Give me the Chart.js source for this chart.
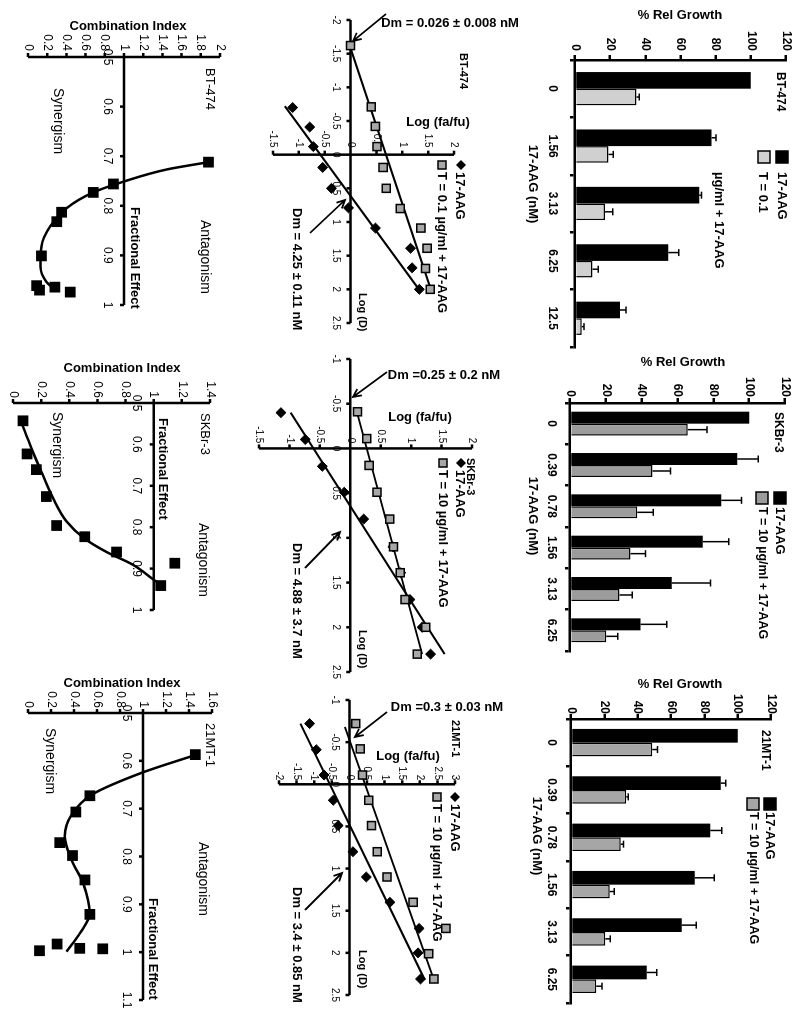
<!DOCTYPE html>
<html>
<head>
<meta charset="utf-8">
<script src="https://cdn.jsdelivr.net/npm/chart.js@4.4.1/dist/chart.umd.min.js"></script>
<style>
  html, body { margin: 0; padding: 0; background: #fff; overflow: hidden; }
  body { width: 800px; height: 1023px; position: relative; }
  /* the figure is laid out upright (1023 x 800) and turned a quarter clockwise */
  #figure { position: absolute; left: 0; top: 0; width: 1023px; height: 800px;
            transform-origin: 0 0; transform: translate(800px, 0) rotate(90deg); }
  #figure canvas { position: absolute; left: 0; top: 0; }
</style>
</head>
<body>
<div id="figure"></div>
<script>
// ---- % relative growth (bar charts) ----
const growthTicks = [0, 20, 40, 60, 80, 100, 120];

const btDoses = ['0', '1.56', '3.13', '6.25', '12.5'];
const btAag = [100, 77.7, 70.7, 53, 25.6];
const btAagErr = [0, 2.5, 1.3, 6, 3.4];
const btCombo = [35, 19, 17, 10, 3.8];
const btComboErr = [1.5, 2.8, 4.4, 3.2, 1.3];

const skDoses = ['0', '0.39', '0.78', '1.56', '3.13', '6.25'];
const skAag = [100, 93.4, 84.4, 74.1, 56.8, 39.4];
const skAagErr = [0, 11.7, 11.3, 14.5, 21.6, 14.6];
const skCombo = [65.7, 46.1, 37.5, 33.8, 27.6, 20.3];
const skComboErr = [10.7, 10, 9, 8.4, 7.1, 6.4];

const mtDoses = ['0', '0.39', '0.78', '1.56', '3.13', '6.25'];
const mtAag = [100, 89.8, 83.6, 74.3, 66.5, 45.5];
const mtAagErr = [0, 3, 6.8, 11.6, 8.6, 6];
const mtCombo = [48.7, 33.1, 29.9, 23.2, 20.6, 15.2];
const mtComboErr = [3.2, 1.2, 1.6, 2.8, 3, 3.4];

// ---- median-effect plots: log (D) vs log (fa/fu) ----
const btLogDTicks = [-2, -1.5, -1, -0.5, 0, 0.5, 1, 1.5, 2, 2.5];
const btLogFTicks = [-1.5, -1, -0.5, 0, 0.5, 1, 1.5, 2];
const btAagLogD = [-0.70, -0.41, -0.12, 0.19, 0.50, 0.79, 1.09, 1.39, 1.68, 2.0];
const btAagLogF = [-1.12, -0.79, -0.72, -0.54, -0.37, -0.04, 0.48, 1.16, 1.19, 1.33];
const btComboLogD = [-1.62, -0.71, -0.42, -0.12, 0.19, 0.50, 0.80, 1.09, 1.39, 1.69, 2.0];
const btComboLogF = [0.0, 0.40, 0.48, 0.51, 0.63, 0.69, 0.96, 1.36, 1.48, 1.45, 1.54];
const btAagFitD = [-0.72, 2.02];
const btAagFitF = [-1.27, 1.34];
const btComboFitD = [-1.65, 2.02];
const btComboFitF = [-0.03, 1.56];

const skLogDTicks = [-1, -0.5, 0, 0.5, 1, 1.5, 2, 2.5];
const skLogFTicks = [-1.5, -1, -0.5, 0, 0.5, 1, 1.5, 2];
const skAagLogD = [-0.40, -0.10, 0.20, 0.49, 0.79, 1.10, 1.39, 1.69, 2.0, 2.30];
const skAagLogF = [-1.14, -0.74, -0.46, -0.10, 0.22, 0.70, 0.83, 0.98, 1.18, 1.32];
const skComboLogD = [-0.41, -0.11, 0.19, 0.49, 0.79, 1.10, 1.39, 1.69, 2.0, 2.30];
const skComboLogF = [0.12, 0.27, 0.31, 0.44, 0.65, 0.71, 0.82, 0.90, 1.24, 1.10];
const skAagFitD = [-0.40, 2.30];
const skAagFitF = [-0.98, 1.55];
const skComboFitD = [-0.43, 2.30];
const skComboFitF = [0.10, 1.18];

const mtLogDTicks = [-1, -0.5, 0, 0.5, 1, 1.5, 2, 2.5];
const mtLogFTicks = [-2, -1.5, -1, -0.5, 0, 0.5, 1, 1.5, 2, 2.5, 3];
const mtAagLogD = [-0.72, -0.41, -0.11, 0.19, 0.49, 0.80, 1.10, 1.40, 1.71, 2.0, 2.31];
const mtAagLogF = [-1.13, -0.94, -0.72, -0.46, -0.32, 0.10, 0.48, 1.15, 1.98, 1.95, 2.02];
const mtComboLogD = [-0.72, -0.42, -0.11, 0.19, 0.49, 0.80, 1.10, 1.40, 1.71, 2.01, 2.31];
const mtComboLogF = [0.18, 0.31, 0.37, 0.55, 0.63, 0.79, 1.07, 1.81, 2.74, 2.25, 2.40];
const mtAagFitD = [-0.72, 2.32];
const mtAagFitF = [-1.39, 2.14];
const mtComboFitD = [-0.68, 2.32];
const mtComboFitF = [-0.13, 2.40];

// ---- combination index vs fractional effect ----
const feTicks = [0.5, 0.6, 0.7, 0.8, 0.9, 1];
const mtFeTicks = [0.5, 0.6, 0.7, 0.8, 0.9, 1, 1.1];
const btCiTicks = [0, 0.2, 0.4, 0.6, 0.8, 1, 1.2, 1.4, 1.6, 1.8, 2];
const skCiTicks = [0, 0.2, 0.4, 0.6, 0.8, 1, 1.2, 1.4];
const mtCiTicks = [0, 0.2, 0.4, 0.6, 0.8, 1, 1.2, 1.4, 1.6];

const btFa = [0.712, 0.756, 0.773, 0.813, 0.832, 0.901, 0.964, 0.961, 0.970, 0.974];
const btCi = [1.88, 0.89, 0.68, 0.35, 0.30, 0.14, 0.28, 0.09, 0.12, 0.44];
const btCurveFa = [0.712, 0.727, 0.751, 0.773, 0.805, 0.842, 0.882, 0.923, 0.953, 0.966];
const btCurveCi = [1.88, 1.44, 1.0, 0.68, 0.40, 0.23, 0.14, 0.13, 0.19, 0.26];

const skFa = [0.543, 0.623, 0.661, 0.726, 0.796, 0.823, 0.86, 0.887, 0.941];
const skCi = [0.071, 0.10, 0.166, 0.237, 0.31, 0.51, 0.736, 1.15, 1.05];
const skCurveFa = [0.546, 0.609, 0.665, 0.730, 0.786, 0.828, 0.859, 0.891, 0.923, 0.941];
const skCurveCi = [0.059, 0.13, 0.20, 0.285, 0.38, 0.51, 0.66, 0.854, 0.985, 1.056];

const mtFa = [0.587, 0.673, 0.707, 0.771, 0.798, 0.849, 0.921, 0.983, 0.997, 0.992, 0.993];
const mtCi = [1.455, 0.538, 0.416, 0.276, 0.387, 0.495, 0.538, 0.253, 0.10, 0.45, 0.65];
const mtCurveFa = [0.589, 0.624, 0.671, 0.713, 0.758, 0.807, 0.856, 0.919, 0.961, 0.999];
const mtCurveCi = [1.44, 1.0, 0.553, 0.378, 0.32, 0.378, 0.48, 0.538, 0.45, 0.335];

// ---- setup ----
const W = 1023, H = 800;
const AXIS_W = 2.5;
const FONT = '"Liberation Sans", Arial, Helvetica, sans-serif';
const bold = px => `bold ${px}px ${FONT}`;
const plain = px => `${px}px ${FONT}`;

Chart.defaults.font.family = FONT;
Chart.defaults.color = '#000';

const figure = document.getElementById('figure');

function addCanvas() {
    const canvas = document.createElement('canvas');
    canvas.width = W;
    canvas.height = H;
    figure.appendChild(canvas);
    return canvas;
}

function toPoints(xs, ys) {
    return xs.map((x, i) => ({ x, y: ys[i] }));
}

function fmt(v) {
    return String(Math.round(v * 100) / 100);
}

// Error bars (upper side only) on top of each bar
const errorBars = {
    id: 'errorBars',
    afterDatasetsDraw(chart) {
        const { ctx } = chart;
        const yScale = chart.scales.y;
        chart.data.datasets.forEach((ds, i) => {
            if (!ds.errors) return;
            chart.getDatasetMeta(i).data.forEach((bar, j) => {
                const err = ds.errors[j];
                if (!err) return;
                const top = yScale.getPixelForValue(ds.data[j] + err);
                ctx.save();
                ctx.strokeStyle = '#000';
                ctx.lineWidth = 1.5;
                ctx.beginPath();
                ctx.moveTo(bar.x, bar.y);
                ctx.lineTo(bar.x, top);
                ctx.moveTo(bar.x - 3.5, top);
                ctx.lineTo(bar.x + 3.5, top);
                ctx.stroke();
                ctx.restore();
            });
        });
    }
};

// Axes that cross inside the plot (median-effect and CI panels)
function crossAxes(o) {
    return {
        id: 'crossAxes',
        beforeDatasetsDraw(chart) {
            const { ctx, chartArea: ca } = chart;
            const xs = chart.scales.x, ys = chart.scales.y;
            const hy = ys.getPixelForValue(o.xAxisAt);
            const vx = xs.getPixelForValue(o.yAxisAt);
            ctx.save();
            ctx.strokeStyle = '#000';
            ctx.fillStyle = '#000';
            ctx.lineWidth = AXIS_W;
            ctx.beginPath();
            ctx.moveTo(ca.left, hy);
            ctx.lineTo(ca.right, hy);
            ctx.moveTo(vx, ca.top);
            ctx.lineTo(vx, ca.bottom);
            o.xTicks.forEach(v => {
                const p = xs.getPixelForValue(v);
                ctx.moveTo(p, hy);
                ctx.lineTo(p, hy + 4);
            });
            o.yTicks.forEach(v => {
                const p = ys.getPixelForValue(v);
                ctx.moveTo(vx - 4, p);
                ctx.lineTo(vx, p);
            });
            ctx.stroke();
            ctx.font = o.font;
            ctx.textBaseline = 'middle';
            ctx.textAlign = 'center';
            o.xTicks.forEach(v => ctx.fillText(fmt(v), xs.getPixelForValue(v), hy + o.xGap));
            ctx.textAlign = 'right';
            o.yTicks.forEach(v => ctx.fillText(fmt(v), vx - o.yGap, ys.getPixelForValue(v)));
            ctx.restore();
        }
    };
}

function drawKey(ctx, k) {
    const h = k.size / 2;
    ctx.save();
    ctx.fillStyle = k.fill || '#000';
    ctx.strokeStyle = '#000';
    ctx.lineWidth = 1.5;
    ctx.beginPath();
    if (k.shape === 'diamond') {
        ctx.moveTo(k.x, k.y - h);
        ctx.lineTo(k.x + h, k.y);
        ctx.lineTo(k.x, k.y + h);
        ctx.lineTo(k.x - h, k.y);
        ctx.closePath();
        ctx.fill();
    } else {
        ctx.rect(k.x - h, k.y - h, k.size, k.size);
        ctx.fill();
        ctx.stroke();
    }
    ctx.restore();
}

function drawArrow(ctx, a) {
    const ang = Math.atan2(a.y2 - a.y1, a.x2 - a.x1);
    const len = 9, spread = 0.45;
    ctx.save();
    ctx.strokeStyle = '#000';
    ctx.lineWidth = 1.8;
    ctx.beginPath();
    ctx.moveTo(a.x1, a.y1);
    ctx.lineTo(a.x2, a.y2);
    ctx.moveTo(a.x2 - len * Math.cos(ang - spread), a.y2 - len * Math.sin(ang - spread));
    ctx.lineTo(a.x2, a.y2);
    ctx.lineTo(a.x2 - len * Math.cos(ang + spread), a.y2 - len * Math.sin(ang + spread));
    ctx.stroke();
    ctx.restore();
}

function drawText(ctx, t) {
    ctx.save();
    ctx.translate(t.x, t.y);
    if (t.r) ctx.rotate(-Math.PI / 2);
    ctx.font = t.f;
    ctx.fillStyle = '#000';
    ctx.textAlign = t.a || 'left';
    ctx.textBaseline = 'middle';
    ctx.fillText(t.t, 0, 0);
    ctx.restore();
}

// Titles, legends, labels and arrows for one panel
function notes(n) {
    return {
        id: 'notes',
        afterDraw(chart) {
            const { ctx } = chart;
            (n.keys || []).forEach(k => drawKey(ctx, k));
            (n.arrows || []).forEach(a => drawArrow(ctx, a));
            (n.texts || []).forEach(t => drawText(ctx, t));
        }
    };
}

function baseOptions(padding) {
    return {
        responsive: false,
        animation: false,
        events: [],
        layout: { padding },
        plugins: { legend: { display: false }, tooltip: { enabled: false } }
    };
}

function barChart(c) {
    const options = baseOptions({ left: 0, top: c.area.top, right: W - c.area.right, bottom: 0 });
    options.datasets = { bar: { categoryPercentage: 0.58, barPercentage: 1 } };
    options.scales = {
        x: {
            type: 'category',
            grid: { offset: true, drawOnChartArea: false, tickLength: 5, color: '#000', lineWidth: AXIS_W },
            border: { color: '#000', width: AXIS_W },
            ticks: { font: { size: 12, weight: 'bold' }, color: '#000', padding: c.catPad, maxRotation: 0, autoSkip: false },
            afterFit: s => { s.height = H - c.area.bottom; }
        },
        y: {
            min: growthTicks[0],
            max: growthTicks[growthTicks.length - 1],
            grid: { drawOnChartArea: false, tickLength: 5, color: '#000', lineWidth: AXIS_W },
            border: { color: '#000', width: AXIS_W },
            ticks: { font: { size: 12, weight: 'bold' }, color: '#000', padding: c.tickPad },
            afterBuildTicks: s => { s.ticks = growthTicks.map(v => ({ value: v })); },
            afterFit: s => { s.width = c.area.left; }
        }
    };
    return new Chart(addCanvas(), {
        type: 'bar',
        data: {
            labels: c.doses,
            datasets: [
                { label: '17-AAG', data: c.aag, errors: c.aagErr, backgroundColor: '#000', borderWidth: 0 },
                { label: c.comboLabel, data: c.combo, errors: c.comboErr, backgroundColor: c.grey, borderColor: '#000', borderWidth: 1.5 }
            ]
        },
        options,
        plugins: [errorBars, notes(c.notes)]
    });
}

function scatterOptions(area, xTicks, yTicks) {
    const options = baseOptions({ left: area.left, top: area.top, right: W - area.right, bottom: H - area.bottom });
    options.scales = {
        x: { type: 'linear', min: xTicks[0], max: xTicks[xTicks.length - 1], display: false },
        y: { type: 'linear', min: yTicks[0], max: yTicks[yTicks.length - 1], display: false }
    };
    return options;
}

function medianChart(c) {
    return new Chart(addCanvas(), {
        type: 'scatter',
        data: {
            datasets: [
                { label: '17-AAG', data: toPoints(c.aagD, c.aagF), pointStyle: 'rectRot', pointRadius: 5,
                  backgroundColor: '#000', borderColor: '#000', borderWidth: 1, order: 1 },
                { label: c.comboLabel, data: toPoints(c.comboD, c.comboF), pointStyle: 'rect', pointRadius: 5.7,
                  backgroundColor: '#a8a8a8', borderColor: '#000', borderWidth: 1.5, order: 0 },
                { data: toPoints(c.aagFitD, c.aagFitF), showLine: true, pointRadius: 0,
                  borderColor: '#000', borderWidth: 2, order: 2 },
                { data: toPoints(c.comboFitD, c.comboFitF), showLine: true, pointRadius: 0,
                  borderColor: '#000', borderWidth: 2, order: 2 }
            ]
        },
        options: scatterOptions(c.area, c.dTicks, c.fTicks),
        plugins: [
            crossAxes({ xAxisAt: 0, yAxisAt: 0, xTicks: c.dTicks, yTicks: c.fTicks, font: plain(10), xGap: 15, yGap: c.yGap }),
            notes(c.notes)
        ]
    });
}

function ciChart(c) {
    return new Chart(addCanvas(), {
        type: 'scatter',
        data: {
            datasets: [
                { label: 'CI', data: toPoints(c.fa, c.ci), pointStyle: 'rect', pointRadius: 7.6,
                  backgroundColor: '#000', borderColor: '#000', borderWidth: 0, order: 0 },
                { label: 'fit', data: toPoints(c.curveFa, c.curveCi), showLine: true, pointRadius: 0,
                  cubicInterpolationMode: 'monotone', borderColor: '#000', borderWidth: 2.5, order: 1 }
            ]
        },
        options: scatterOptions(c.area, c.feTicks, c.ciTicks),
        plugins: [
            crossAxes({ xAxisAt: 1, yAxisAt: c.feTicks[0], xTicks: c.feTicks, yTicks: c.ciTicks, font: plain(12), xGap: 17, yGap: c.yGap }),
            notes(c.notes)
        ]
    });
}

// ---- BT-474 ----
barChart({
    area: { left: 60, top: 14, right: 347, bottom: 225 },
    doses: btDoses, aag: btAag, aagErr: btAagErr, combo: btCombo, comboErr: btComboErr,
    comboLabel: 'T = 0.1 µg/ml + 17-AAG', grey: '#d0d0d0', tickPad: 4, catPad: 10.8,
    notes: {
        keys: [
            { shape: 'box', x: 157, y: 18, size: 12, fill: '#000' },
            { shape: 'box', x: 157, y: 36, size: 12, fill: '#d0d0d0' }
        ],
        texts: [
            { t: '% Rel Growth', x: 15, y: 120, f: bold(13), a: 'center', r: true },
            { t: 'BT-474', x: 72, y: 20, f: bold(12) },
            { t: '17-AAG', x: 172, y: 18, f: bold(13) },
            { t: 'T = 0.1', x: 172, y: 37, f: bold(13) },
            { t: 'µg/ml + 17-AAG', x: 172, y: 81, f: bold(13) },
            { t: '17-AAG (nM)', x: 184, y: 267, f: bold(13), a: 'center' }
        ]
    }
});

medianChart({
    area: { left: 20, top: 346, right: 323, bottom: 527 },
    dTicks: btLogDTicks, fTicks: btLogFTicks,
    aagD: btAagLogD, aagF: btAagLogF, comboD: btComboLogD, comboF: btComboLogF,
    aagFitD: btAagFitD, aagFitF: btAagFitF, comboFitD: btComboFitD, comboFitF: btComboFitF,
    comboLabel: 'T = 0.1 µg/ml + 17-AAG', yGap: 7,
    notes: {
        keys: [
            { shape: 'diamond', x: 165, y: 339, size: 10 },
            { shape: 'square', x: 165, y: 358, size: 8, fill: '#a8a8a8' }
        ],
        arrows: [
            { x1: 14, y1: 414, x2: 41, y2: 447 },
            { x1: 233, y1: 490, x2: 200, y2: 455 }
        ],
        texts: [
            { t: 'Dm = 0.026 ± 0.008 nM', x: 23, y: 350, f: bold(13), a: 'center', r: true },
            { t: 'Dm = 4.25 ± 0.11 nM', x: 208, y: 503, f: bold(13) },
            { t: 'BT-474', x: 53, y: 337, f: bold(11) },
            { t: 'Log (fa/fu)', x: 122, y: 362, f: bold(13), a: 'center', r: true },
            { t: 'Log (D)', x: 293, y: 438, f: bold(11) },
            { t: '17-AAG', x: 172, y: 340, f: bold(13) },
            { t: 'T = 0.1 µg/ml + 17-AAG', x: 172, y: 358, f: bold(13) }
        ]
    }
});

ciChart({
    area: { left: 57, top: 580, right: 305, bottom: 772 },
    feTicks: feTicks, ciTicks: btCiTicks,
    fa: btFa, ci: btCi, curveFa: btCurveFa, curveCi: btCurveCi, yGap: 6,
    notes: {
        texts: [
            { t: 'Combination Index', x: 26, y: 672, f: bold(13), a: 'center', r: true },
            { t: 'BT-474', x: 68, y: 590, f: plain(13) },
            { t: 'Synergism', x: 88, y: 742, f: plain(14) },
            { t: 'Antagonism', x: 220, y: 595, f: plain(14) },
            { t: 'Fractional Effect', x: 207, y: 665, f: bold(13) }
        ]
    }
});

// ---- SKBr-3 ----
barChart({
    area: { left: 403, top: 15, right: 651, bottom: 230 },
    doses: skDoses, aag: skAag, aagErr: skAagErr, combo: skCombo, comboErr: skComboErr,
    comboLabel: 'T = 10 µg/ml + 17-AAG', grey: '#9c9c9c', tickPad: 1, catPad: 6.1,
    notes: {
        keys: [
            { shape: 'box', x: 498, y: 20, size: 12, fill: '#000' },
            { shape: 'box', x: 498, y: 38, size: 12, fill: '#9c9c9c' }
        ],
        texts: [
            { t: '% Rel Growth', x: 362, y: 117, f: bold(13), a: 'center', r: true },
            { t: 'SKBr-3', x: 412, y: 22, f: bold(12) },
            { t: '17-AAG', x: 507, y: 20, f: bold(13) },
            { t: 'T = 10 µg/ml + 17-AAG', x: 507, y: 38, f: bold(12.5) },
            { t: '17-AAG (nM)', x: 516, y: 267, f: bold(13), a: 'center' }
        ]
    }
});

medianChart({
    area: { left: 359, top: 328, right: 672, bottom: 541 },
    dTicks: skLogDTicks, fTicks: skLogFTicks,
    aagD: skAagLogD, aagF: skAagLogF, comboD: skComboLogD, comboF: skComboLogF,
    aagFitD: skAagFitD, aagFitF: skAagFitF, comboFitD: skComboFitD, comboFitF: skComboFitF,
    comboLabel: 'T = 10 µg/ml + 17-AAG', yGap: 5,
    notes: {
        keys: [
            { shape: 'diamond', x: 463, y: 339, size: 10 },
            { shape: 'square', x: 463, y: 357, size: 8, fill: '#a8a8a8' }
        ],
        arrows: [
            { x1: 372, y1: 413, x2: 397, y2: 447 },
            { x1: 568, y1: 495, x2: 532, y2: 460 }
        ],
        texts: [
            { t: 'Dm =0.25 ± 0.2 nM', x: 375, y: 356, f: bold(13), a: 'center', r: true },
            { t: 'Dm = 4.88 ± 3.7 nM', x: 543, y: 503, f: bold(13) },
            { t: 'SKBr-3', x: 458, y: 330, f: bold(11) },
            { t: 'Log (fa/fu)', x: 417, y: 380, f: bold(13), a: 'center', r: true },
            { t: 'Log (D)', x: 630, y: 438, f: bold(11) },
            { t: '17-AAG', x: 470, y: 340, f: bold(13) },
            { t: 'T = 10 µg/ml + 17-AAG', x: 470, y: 357, f: bold(13) }
        ]
    }
});

ciChart({
    area: { left: 403, top: 590, right: 610, bottom: 787 },
    feTicks: feTicks, ciTicks: skCiTicks,
    fa: skFa, ci: skCi, curveFa: skCurveFa, curveCi: skCurveCi, yGap: 5,
    notes: {
        texts: [
            { t: 'Combination Index', x: 368, y: 678, f: bold(13), a: 'center', r: true },
            { t: 'SKBr-3', x: 413, y: 595, f: plain(13) },
            { t: 'Synergism', x: 412, y: 743, f: plain(14) },
            { t: 'Antagonism', x: 523, y: 597, f: plain(14) },
            { t: 'Fractional Effect', x: 418, y: 637, f: bold(13) }
        ]
    }
});

// ---- 21MT-1 ----
barChart({
    area: { left: 719, top: 29, right: 1003, bottom: 229 },
    doses: mtDoses, aag: mtAag, aagErr: mtAagErr, combo: mtCombo, comboErr: mtComboErr,
    comboLabel: 'T = 10 µg/ml + 17-AAG', grey: '#a6a6a6', tickPad: 0, catPad: 7.1,
    notes: {
        keys: [
            { shape: 'box', x: 804, y: 30, size: 12, fill: '#000' },
            { shape: 'box', x: 804, y: 47, size: 12, fill: '#a6a6a6' }
        ],
        texts: [
            { t: '% Rel Growth', x: 684, y: 120, f: bold(13), a: 'center', r: true },
            { t: '21MT-1', x: 730, y: 35, f: bold(12) },
            { t: '17-AAG', x: 812, y: 30, f: bold(13) },
            { t: 'T = 10 µg/ml + 17-AAG', x: 812, y: 47, f: bold(12.5) },
            { t: '17-AAG (nM)', x: 836, y: 263, f: bold(13), a: 'center' }
        ]
    }
});

medianChart({
    area: { left: 700, top: 345, right: 995, bottom: 521 },
    dTicks: mtLogDTicks, fTicks: mtLogFTicks,
    aagD: mtAagLogD, aagF: mtAagLogF, comboD: mtComboLogD, comboF: mtComboLogF,
    aagFitD: mtAagFitD, aagFitF: mtAagFitF, comboFitD: mtComboFitD, comboFitF: mtComboFitF,
    comboLabel: 'T = 10 µg/ml + 17-AAG', yGap: 4,
    notes: {
        keys: [
            { shape: 'diamond', x: 797, y: 345, size: 10 },
            { shape: 'square', x: 797, y: 363, size: 8, fill: '#a8a8a8' }
        ],
        arrows: [
            { x1: 712, y1: 413, x2: 737, y2: 445 },
            { x1: 910, y1: 495, x2: 873, y2: 458 }
        ],
        texts: [
            { t: 'Dm =0.3 ± 0.03 nM', x: 707, y: 353, f: bold(13), a: 'center', r: true },
            { t: 'Dm = 3.4 ± 0.85 nM', x: 887, y: 503, f: bold(13) },
            { t: '21MT-1', x: 720, y: 345, f: bold(11) },
            { t: 'Log (fa/fu)', x: 756, y: 392, f: bold(13), a: 'center', r: true },
            { t: 'Log (D)', x: 950, y: 438, f: bold(11) },
            { t: '17-AAG', x: 804, y: 345, f: bold(13) },
            { t: 'T = 10 µg/ml + 17-AAG', x: 804, y: 363, f: bold(13) }
        ]
    }
});

ciChart({
    area: { left: 713, top: 588, right: 1000, bottom: 772 },
    feTicks: mtFeTicks, ciTicks: mtCiTicks,
    fa: mtFa, ci: mtCi, curveFa: mtCurveFa, curveCi: mtCurveCi, yGap: 5,
    notes: {
        texts: [
            { t: 'Combination Index', x: 683, y: 678, f: bold(13), a: 'center', r: true },
            { t: '21MT-1', x: 723, y: 590, f: plain(13) },
            { t: 'Synergism', x: 728, y: 750, f: plain(14) },
            { t: 'Antagonism', x: 842, y: 597, f: plain(14) },
            { t: 'Fractional Effect', x: 898, y: 647, f: bold(13) }
        ]
    }
});
</script>
</body>
</html>
